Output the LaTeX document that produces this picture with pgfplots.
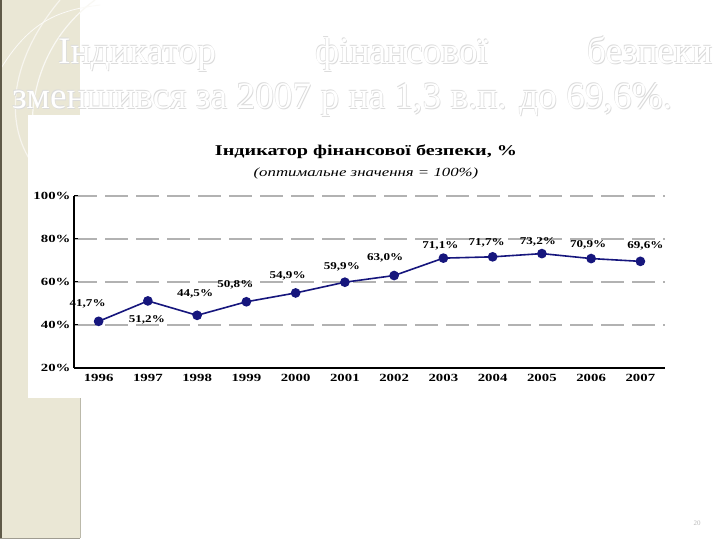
\documentclass[border=0pt]{standalone}
\usepackage{pgfplots}
\pgfplotsset{compat=1.18}
\usepackage{fontspec}
\setmainfont{Liberation Serif}
\newfontfamily\cf[FakeStretch=1.25]{Liberation Serif}
\newfontfamily\cft[FakeStretch=1.35]{Liberation Serif}
\definecolor{strip}{RGB}{234,231,213}
\definecolor{stripdark}{RGB}{95,90,72}
\definecolor{navy}{RGB}{22,22,125}
\newcommand{\ttl}[1]{\fontsize{37.5}{37.5}\selectfont #1}
\begin{document}
\begin{tikzpicture}[x=1bp,y=1bp]
\useasboundingbox (0,0) rectangle (720,540);
\fill[white] (0,0) rectangle (720,540);
% left strip
\fill[strip] (0,2) rectangle (80,540);
\draw[white!70!strip, line width=1.2bp] (95,540) .. controls (40,500) and (20,430) .. (40,370);
\draw[white!60!strip, line width=1.2bp] (60,540) .. controls (10,480) and (5,420) .. (30,380);
\draw[white!80!strip, line width=0.8bp] (0,470) .. controls (30,520) and (60,530) .. (100,535);
\draw[stripdark, line width=1.6bp] (0.8,2) -- (0.8,540);
\draw[stripdark!60, line width=1.2bp] (0,1.5) -- (80,1.5);
\draw[strip!80!black, line width=0.8bp] (80,2) -- (80,142);
% chart white area
\fill[white] (28,142) rectangle (700,425);
% slide title with outline effect
\foreach \dx/\dy in {0.8/-0.8,-0.6/0.6}{
  \node[anchor=west, inner sep=0, text=gray!28] at (58+\dx,486+\dy) {\makebox[654bp][s]{\ttl{Індикатор\hfill фінансової\hfill безпеки}}};
  \node[anchor=west, inner sep=0, text=gray!28] at (12+\dx,440+\dy) {\ttl{зменшився за 2007 р на 1,3 в.п. до 69,6\%.}};
}
\node[anchor=west, inner sep=0, text=white] at (58,486) {\makebox[654bp][s]{\ttl{Індикатор\hfill фінансової\hfill безпеки}}};
\node[anchor=west, inner sep=0, text=white] at (12,440) {\ttl{зменшився за 2007 р на 1,3 в.п. до 69,6\%.}};
% page number
\node[text=gray!55, font=\fontsize{7}{7}\selectfont] at (697,17) {20};
% chart titles
\node[font=\cft\bfseries\fontsize{15}{15}\selectfont] at (366,388) {Індикатор фінансової безпеки, \%};
\node[font=\cft\itshape\fontsize{12.5}{12.5}\selectfont] at (366,366) {(оптимальне значення = 100\%)};
\begin{axis}[
  at={(74bp,172bp)}, anchor=south west,
  scale only axis, width=591bp, height=172bp,
  xmin=-0.5, xmax=11.5, ymin=20, ymax=100,
  axis x line*=bottom, axis y line*=left,
  axis line style={black, line width=1.3bp, -},
  xtick={0,...,11},
  xticklabels={1996,1997,1998,1999,2000,2001,2002,2003,2004,2005,2006,2007},
  minor xtick={0.5,1.5,...,10.5},
  xtick style={draw=none},
  minor tick style={black, line width=1bp},
  minor tick length=4bp,
  tick align=inside,
  ytick={20,40,60,80,100},
  yticklabels={20\%,40\%,60\%,80\%,100\%},
  ytick style={black, line width=1bp},
  major tick length=4bp,
  xticklabel style={font=\cft\bfseries\fontsize{11}{11}\selectfont, yshift=-3bp},
  yticklabel style={font=\cft\bfseries\fontsize{11}{11}\selectfont, xshift=0bp},
  ymajorgrids,
  major grid style={gray!60, line width=1.6bp, dash pattern=on 23bp off 8bp},
  clip=false,
]
\addplot[color=navy, line width=1.6bp, mark=*, mark size=4bp, mark options={fill=navy, draw=navy},
  point meta=explicit symbolic,
  visualization depends on={\thisrow{dx} \as \dx},
  visualization depends on={\thisrow{dy} \as \dy},
  nodes near coords={\pgfplotspointmeta\%},
  every node near coord/.append style={anchor=center, xshift=\dx bp, yshift=\dy bp, text=black, font=\cf\bfseries\fontsize{10.5}{10.5}\selectfont, inner sep=0}
] table[x=x, y=y, meta=lab] {
x y lab dx dy
0 41.7 41,7 -11 18
1 51.2 51,2 -1 -19
2 44.5 44,5 -2 21
3 50.8 50,8 -11 17
4 54.9 54,9 -8 17
5 59.9 59,9 -3 15
6 63.0 63,0 -9 17.5
7 71.1 71,1 -3 12
8 71.7 71,7 -6 14
9 73.2 73,2 -4 11.5
10 70.9 70,9 -3 13.5
11 69.6 69,6 5 16
};
\end{axis}
\end{tikzpicture}
\end{document}
